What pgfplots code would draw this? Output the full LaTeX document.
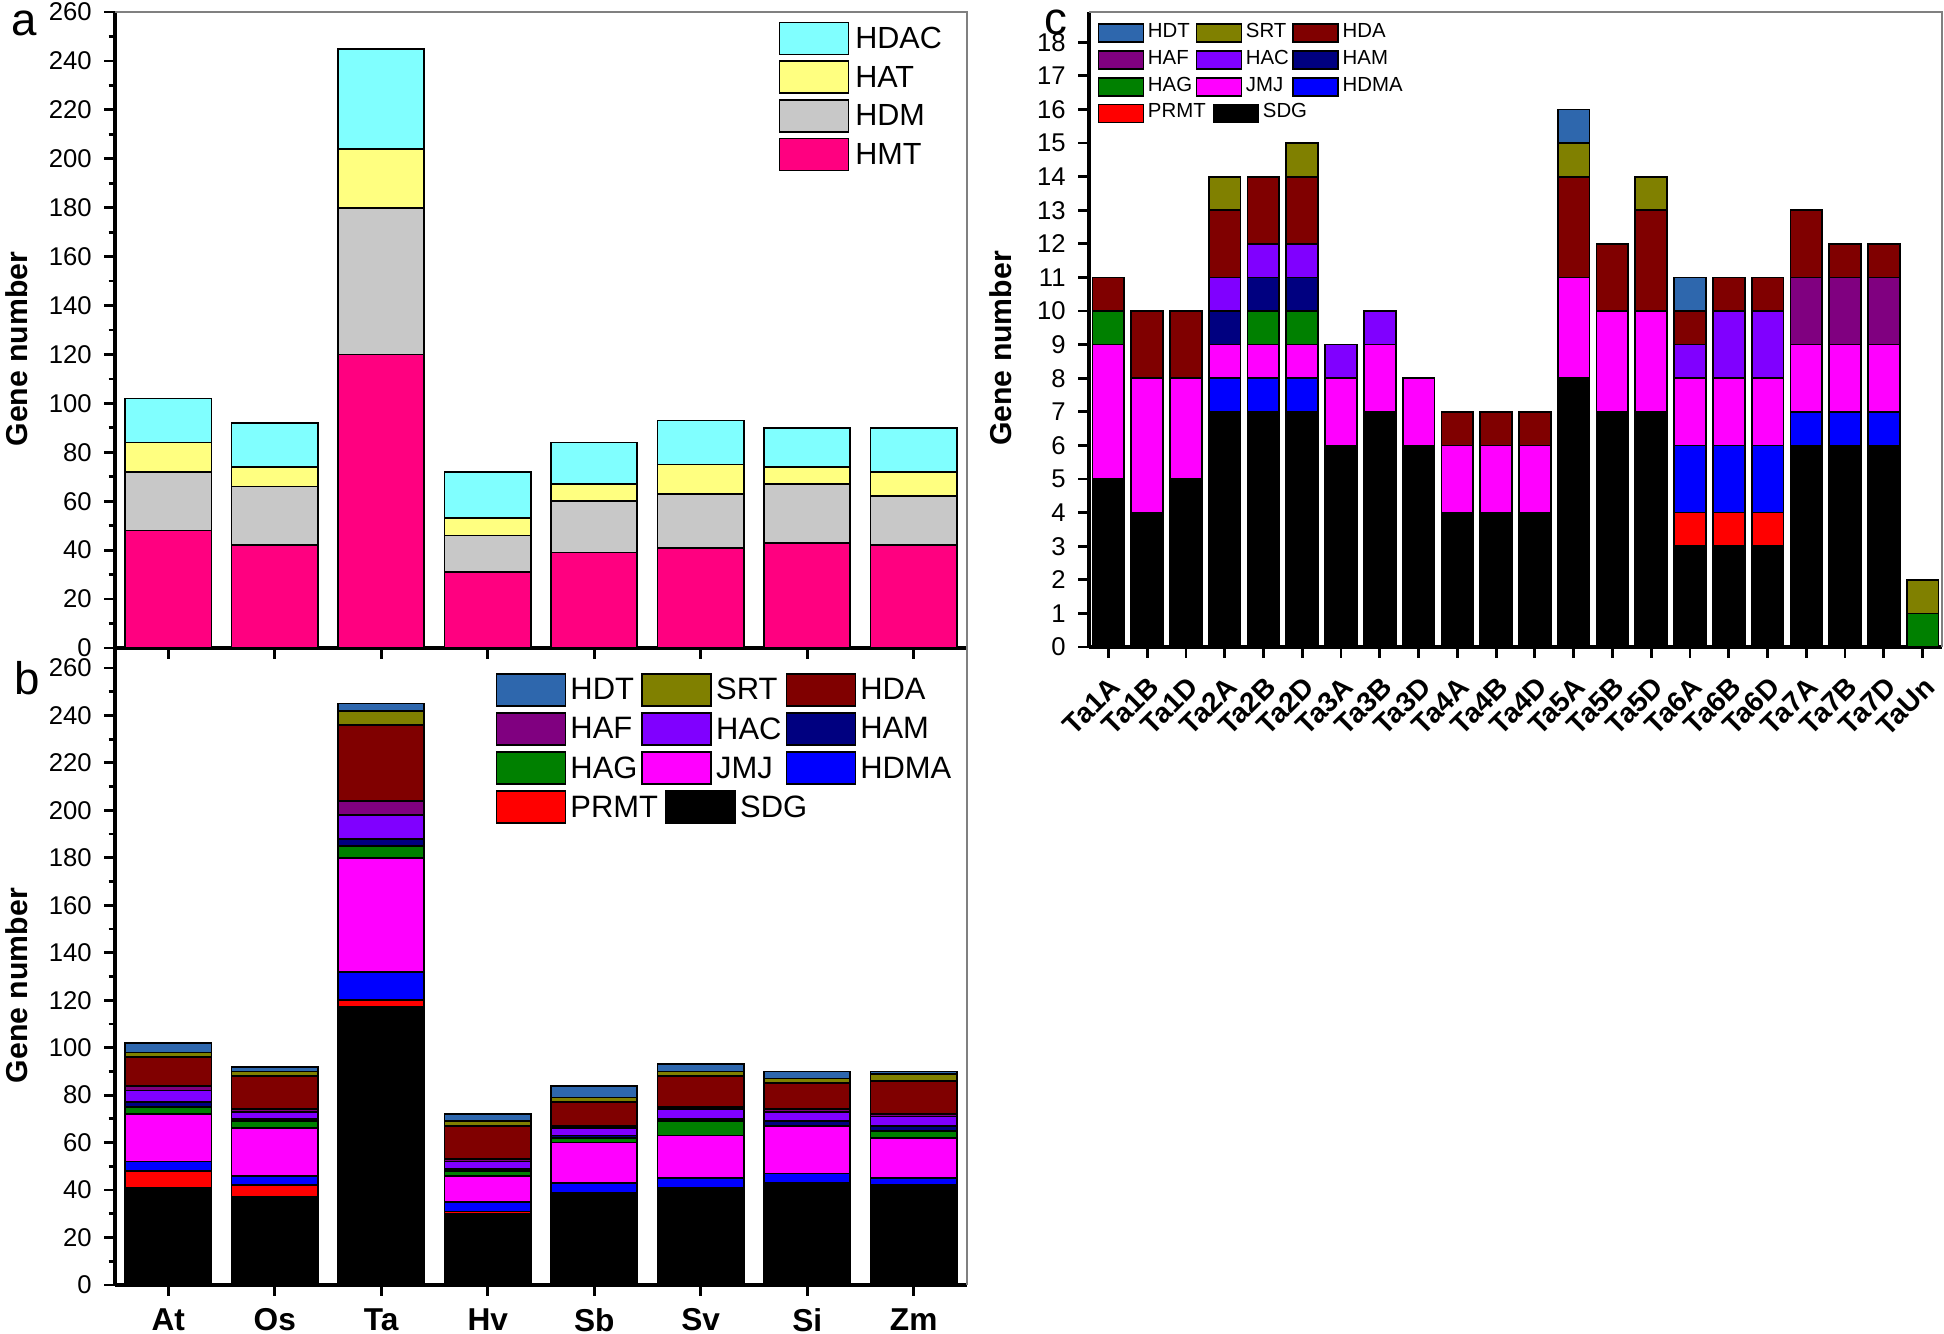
\documentclass[border=0pt]{standalone}
\usepackage{fontspec}
\setmainfont{Liberation Sans}
\usepackage{pgfplots}
\usepackage{pgfplotstable}
\pgfplotsset{compat=1.18}

\definecolor{cHDAC}{HTML}{80FFFF}
\definecolor{cHAT}{HTML}{FFFF80}
\definecolor{cHDM}{HTML}{C8C8C8}
\definecolor{cHMT}{HTML}{FF0080}
\definecolor{cHDT}{HTML}{2E67AD}
\definecolor{cSRT}{HTML}{808000}
\definecolor{cHDA}{HTML}{800000}
\definecolor{cHAF}{HTML}{800080}
\definecolor{cHAC}{HTML}{8000FF}
\definecolor{cHAM}{HTML}{000080}
\definecolor{cHAG}{HTML}{008000}
\definecolor{cJMJ}{HTML}{FF00FF}
\definecolor{cHDMA}{HTML}{0000FF}
\definecolor{cPRMT}{HTML}{FF0000}
\definecolor{cSDG}{HTML}{000000}

% panel a: gene families per species
\pgfplotstableread{
x name HMT HDM HAT HDAC
0 At  48 24 12 18
1 Os  42 24  8 18
2 Ta 120 60 24 41
3 Hv  31 15  7 19
4 Sb  39 21  7 17
5 Sv  41 22 12 18
6 Si  43 24  7 16
7 Zm  42 20 10 18
}\dataA

% panel b: subfamilies per species
\pgfplotstableread{
x name SDG PRMT HDMA JMJ HAG HAM HAC HAF HDA SRT HDT
0 At   41 7  4 20 3 2  5 2 12 2 4
1 Os   37 5  4 20 3 1  3 1 14 2 2
2 Ta  117 3 12 48 5 3 10 6 32 6 3
3 Hv   30 1  4 11 2 1  3 1 14 2 3
4 Sb   39 0  4 17 2 1  3 1 10 2 5
5 Sv   41 0  4 18 6 1  4 1 13 2 3
6 Si   42 1  4 20 0 2  4 1 11 2 3
7 Zm   42 0  3 17 3 2  4 1 14 3 1
}\dataB

% panel c: wheat chromosomes
\pgfplotstableread{
x name SDG PRMT HDMA JMJ HAG HAM HAC HAF HDA SRT HDT
0  Ta1A 5 0 0 4 1 0 0 0 1 0 0
1  Ta1B 4 0 0 4 0 0 0 0 2 0 0
2  Ta1D 5 0 0 3 0 0 0 0 2 0 0
3  Ta2A 7 0 1 1 0 1 1 0 2 1 0
4  Ta2B 7 0 1 1 1 1 1 0 2 0 0
5  Ta2D 7 0 1 1 1 1 1 0 2 1 0
6  Ta3A 6 0 0 2 0 0 1 0 0 0 0
7  Ta3B 7 0 0 2 0 0 1 0 0 0 0
8  Ta3D 6 0 0 2 0 0 0 0 0 0 0
9  Ta4A 4 0 0 2 0 0 0 0 1 0 0
10 Ta4B 4 0 0 2 0 0 0 0 1 0 0
11 Ta4D 4 0 0 2 0 0 0 0 1 0 0
12 Ta5A 8 0 0 3 0 0 0 0 3 1 1
13 Ta5B 7 0 0 3 0 0 0 0 2 0 0
14 Ta5D 7 0 0 3 0 0 0 0 3 1 0
15 Ta6A 3 1 2 2 0 0 1 0 1 0 1
16 Ta6B 3 1 2 2 0 0 2 0 1 0 0
17 Ta6D 3 1 2 2 0 0 2 0 1 0 0
18 Ta7A 6 0 1 2 0 0 0 2 2 0 0
19 Ta7B 6 0 1 2 0 0 0 2 1 0 0
20 Ta7D 6 0 1 2 0 0 0 2 1 0 0
21 TaUn 0 0 0 0 1 0 0 0 0 1 0
}\dataC

\pgfplotsset{
  panel/.style={
    scale only axis, ybar stacked, clip=false,
    axis x line*=bottom, axis y line*=left,
    axis line style={line width=0.9pt, -},
    tick align=outside, major tick length=1.1mm, minor tick length=0.65mm,
    tick style={black, line width=0.8pt},
    tick label style={font=\fontsize{7.3}{8.5}\selectfont},
    /pgf/number format/assume math mode=true,
    every axis y label/.style={rotate=90, anchor=north,
      font=\fontsize{8.6}{10}\selectfont\bfseries},
    legend cell align=left,
    reverse legend,
    every axis plot/.append style={draw=black, line width=0.5pt},
  },
  % big legend swatch (panels a and b)
  bigimg/.style={legend image code/.code={\draw[##1] (0mm,-1.4mm) rectangle (6.9mm,1.8mm);}},
  bigimgshift/.style={legend image code/.code={\path[draw=none,fill=none] (0mm,-1.4mm) rectangle (6.9mm,1.8mm);
      \draw[##1, overlay] (2.4mm,-1.4mm) rectangle (9.3mm,1.8mm);}},
  % small legend swatch (panel c)
  smallimg/.style={legend image code/.code={\draw[##1] (0mm,-0.9mm) rectangle (4.5mm,0.9mm);}},
  smallimgshift/.style={legend image code/.code={\path[draw=none,fill=none] (0mm,-0.9mm) rectangle (4.5mm,0.9mm);
      \draw[##1, overlay] (1.7mm,-0.9mm) rectangle (6.2mm,0.9mm);}},
}

\begin{document}
\begin{tikzpicture}
\path[use as bounding box] (0,0) rectangle (194.4mm,-133.4mm);

% ---------- a ----------
\begin{axis}[panel, bigimg,
  at={(11.5mm,-64.8mm)}, anchor=south west,
  width=85.2mm, height=63.6mm,
  bar width=0.81,
  xmin=-0.5, xmax=7.5, ymin=0, ymax=260,
  xtick={0,...,7}, xticklabels={{},{},{},{},{},{},{},{}},
  ytick={0,20,...,260}, minor y tick num=1,
  ylabel={Gene number}, ylabel style={at={(axis description cs:-0.143,0.47)}},
  legend style={at={(0.778,0.986)}, anchor=north west, draw=none, fill=none,
    font=\fontsize{8.7}{10}\selectfont, inner sep=0pt,
    nodes={inner xsep=0.6mm, inner ysep=0.2mm}, column sep=0pt, row sep=0.46mm},
]
\addplot[fill=cHMT] table[x=x,y=HMT]{\dataA}; \addlegendentry{HMT}
\addplot[fill=cHDM] table[x=x,y=HDM]{\dataA}; \addlegendentry{HDM}
\addplot[fill=cHAT] table[x=x,y=HAT]{\dataA}; \addlegendentry{HAT}
\addplot[fill=cHDAC] table[x=x,y=HDAC]{\dataA}; \addlegendentry{HDAC}
\draw[gray, line width=0.4pt] (rel axis cs:0,1) -- (rel axis cs:1,1) -- (rel axis cs:1,0);
\end{axis}

% ---------- b ----------
\begin{axis}[panel, bigimg,
  at={(11.5mm,-128.5mm)}, anchor=south west,
  width=85.2mm, height=63.7mm,
  bar width=0.81,
  xmin=-0.5, xmax=7.5, ymin=0, ymax=268.4,
  xtick={0,...,7}, xticklabels={At,Os,Ta,Hv,Sb,Sv,Si,Zm},
  xticklabel style={font=\fontsize{9}{10}\selectfont\bfseries},
  ytick={0,20,...,260}, minor y tick num=1,
  ylabel={Gene number}, ylabel style={at={(axis description cs:-0.143,0.47)}},
  legend columns=3,
  legend style={at={(0.446,0.962)}, anchor=north west, draw=none, fill=none,
    font=\fontsize{8.8}{10}\selectfont, inner sep=0pt,
    nodes={inner xsep=0.4mm, inner ysep=0.2mm}, column sep=0pt, row sep=0.48mm},
]
\addplot[fill=cSDG, bigimgshift] table[x=x,y=SDG]{\dataB}; \addlegendentry{\makebox[0pt][l]{\hspace*{2.4mm}SDG}}
\addplot[fill=cPRMT] table[x=x,y=PRMT]{\dataB}; \addlegendentry{\makebox[6.6mm][l]{PRMT}}
\addplot[fill=cHDMA] table[x=x,y=HDMA]{\dataB}; \addlegendentry{HDMA}
\addplot[fill=cJMJ] table[x=x,y=JMJ]{\dataB}; \addlegendentry{JMJ}
\addplot[fill=cHAG] table[x=x,y=HAG]{\dataB}; \addlegendentry{HAG}
\addplot[fill=cHAM] table[x=x,y=HAM]{\dataB}; \addlegendentry{HAM}
\addplot[fill=cHAC] table[x=x,y=HAC]{\dataB}; \addlegendentry{HAC}
\addplot[fill=cHAF] table[x=x,y=HAF]{\dataB}; \addlegendentry{HAF}
\addplot[fill=cHDA] table[x=x,y=HDA]{\dataB}; \addlegendentry{HDA}
\addplot[fill=cSRT] table[x=x,y=SRT]{\dataB}; \addlegendentry{SRT}
\addplot[fill=cHDT] table[x=x,y=HDT]{\dataB}; \addlegendentry{HDT}
\draw[gray, line width=0.4pt] (rel axis cs:1,1) -- (rel axis cs:1,0);
\end{axis}

% ---------- c ----------
\begin{axis}[panel, smallimg,
  at={(108.9mm,-64.7mm)}, anchor=south west,
  width=85.3mm, height=63.5mm,
  bar width=0.82,
  xmin=-0.5, xmax=21.5, ymin=0, ymax=18.9,
  xtick={0,...,21},
  xticklabels={Ta1A,Ta1B,Ta1D,Ta2A,Ta2B,Ta2D,Ta3A,Ta3B,Ta3D,Ta4A,Ta4B,Ta4D,
    Ta5A,Ta5B,Ta5D,Ta6A,Ta6B,Ta6D,Ta7A,Ta7B,Ta7D,TaUn},
  xticklabel style={rotate=45, anchor=north east, font=\fontsize{8}{9}\selectfont\bfseries},
  ytick={0,...,18},
  ylabel={Gene number}, ylabel style={at={(axis description cs:-0.131,0.47)}},
  legend columns=3,
  legend style={at={(0.0094,0.986)}, anchor=north west, draw=none, fill=none,
    font=\fontsize{5.8}{7}\selectfont, inner sep=0pt,
    nodes={inner xsep=0.35mm, inner ysep=0.2mm}, column sep=0pt, row sep=0.32mm},
]
\addplot[fill=cSDG, smallimgshift] table[x=x,y=SDG]{\dataC}; \addlegendentry{\makebox[0pt][l]{\hspace*{1.7mm}SDG}}
\addplot[fill=cPRMT] table[x=x,y=PRMT]{\dataC}; \addlegendentry{\makebox[4.4mm][l]{PRMT}}
\addplot[fill=cHDMA] table[x=x,y=HDMA]{\dataC}; \addlegendentry{HDMA}
\addplot[fill=cJMJ] table[x=x,y=JMJ]{\dataC}; \addlegendentry{JMJ}
\addplot[fill=cHAG] table[x=x,y=HAG]{\dataC}; \addlegendentry{HAG}
\addplot[fill=cHAM] table[x=x,y=HAM]{\dataC}; \addlegendentry{HAM}
\addplot[fill=cHAC] table[x=x,y=HAC]{\dataC}; \addlegendentry{HAC}
\addplot[fill=cHAF] table[x=x,y=HAF]{\dataC}; \addlegendentry{HAF}
\addplot[fill=cHDA] table[x=x,y=HDA]{\dataC}; \addlegendentry{HDA}
\addplot[fill=cSRT] table[x=x,y=SRT]{\dataC}; \addlegendentry{SRT}
\addplot[fill=cHDT] table[x=x,y=HDT]{\dataC}; \addlegendentry{HDT}
\draw[gray, line width=0.4pt] (rel axis cs:0,1) -- (rel axis cs:1,1) -- (rel axis cs:1,0);
\end{axis}

\node[font=\fontsize{13}{14}\selectfont, anchor=base west, inner sep=0pt] at (1.1mm,-3.6mm) {a};
\node[font=\fontsize{13}{14}\selectfont, anchor=base west, inner sep=0pt] at (1.4mm,-69.5mm) {b};
\node[font=\fontsize{13}{14}\selectfont, anchor=base west, inner sep=0pt] at (104.4mm,-3.5mm) {c};
\end{tikzpicture}
\end{document}
